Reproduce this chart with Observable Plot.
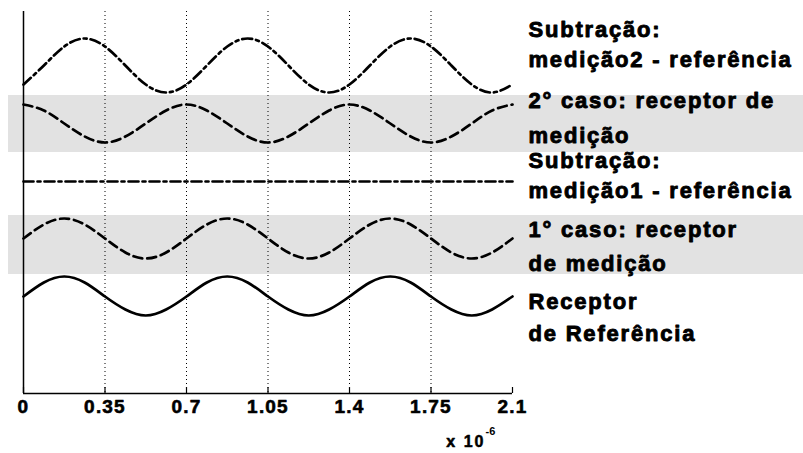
<!DOCTYPE html>
<html>
<head>
<meta charset="utf-8">
<script src="https://cdn.jsdelivr.net/npm/d3@7"></script>
<script src="https://cdn.jsdelivr.net/npm/@observablehq/plot@0.6"></script>
<style>
  html, body { margin: 0; padding: 0; background: #fff; }
  svg { display: block; }
</style>
</head>
<body>
<div id="chart"></div>
<script>
// x positions (units of 1e-6)
const xs = [0, 0.0875, 0.175, 0.2625, 0.35, 0.4375, 0.525, 0.6125, 0.7, 0.7875, 0.875, 0.9625,
            1.05, 1.1375, 1.225, 1.3125, 1.4, 1.4875, 1.575, 1.6625, 1.75, 1.8375, 1.925, 2.0125, 2.1];
// series values (arbitrary vertical units)
const referencia = [97,111,117,111,97,84,78,84, 97,111,117,111,97,84,78,84, 97,111,117,111,97,84,78,84, 97];
const caso1      = [155,169,175,169,155,141,135,141, 155,169,175,169,155,141,135,141, 155,169,175,169,155,141,135,141, 155];
const subtracao1 = [212,212,212,212,212,212,212,212, 212,212,212,212,212,212,212,212, 212,212,212,212,212,212,212,212, 212];
const caso2      = [289,283,270,257,251,257,270,283, 289,283,270,257,251,257,270,283, 289,283,270,257,251,257,270,283, 289];
const subtracao2 = [309,328,347,355,347,328,309,301, 309,328,347,355,347,328,309,301, 309,328,347,355,347,328,309,301, 309];

const tickValues = [0, 0.35, 0.7, 1.05, 1.4, 1.75, 2.1];
const tickLabels = ["0", "0.35", "0.7", "1.05", "1.4", "1.75", "2.1"];
const gridValues = [0.35, 0.7, 1.05, 1.4, 1.75];

const labelLines = ["Subtração:", "medição2 - referência", "2° caso: receptor de", "medição",
                    "Subtração:", "medição1 - referência", "1° caso: receptor", "de medição",
                    "Receptor", "de Referência"];
const labelLevels = [364, 334, 293, 258, 233, 203, 164, 130, 92, 60];

const bandLow  = [241, 119];
const bandHigh = [298, 178];

const series = [
  {name: "sub2", values: subtracao2, dash: "10,4,3,4"},
  {name: "caso2", values: caso2, dash: "9,5"},
  {name: "sub1", values: subtracao1, dash: "10,4,3,4"},
  {name: "caso1", values: caso1, dash: "9,5"},
  {name: "ref", values: referencia, dash: null}
];

const font = "'Liberation Sans', Arial, Helvetica, sans-serif";

const bands = bandLow.map((lo, i) => ({lo, hi: bandHigh[i]}));
const labels = labelLines.map((t, i) => ({t, y: labelLevels[i]}));
const ticks = tickValues.map((v, i) => ({v, s: tickLabels[i]}));

const lineMarks = series.map(s =>
  Plot.line(xs.map((x, i) => ({x, y: s.values[i]})), {
    x: "x", y: "y", curve: "natural",
    stroke: "#000", strokeWidth: 2.7,
    strokeDasharray: s.dash || undefined
  })
);

const chart = Plot.plot({
  width: 803,
  height: 453,
  marginLeft: 23,
  marginRight: 291,
  marginTop: 11,
  marginBottom: 60,
  style: {fontFamily: font, background: "#fff"},
  x: {domain: [0, 2.1], axis: null},
  y: {domain: [0, 382], axis: null},
  marks: [
    Plot.rectY(bands, {y1: "lo", y2: "hi", fill: "#e2e2e2", insetLeft: -15, insetRight: -291}),
    Plot.ruleX(gridValues, {stroke: "#000", strokeWidth: 1, strokeDasharray: "1,3"}),
    Plot.ruleX(tickValues, {stroke: "#000", strokeWidth: 1.2, insetTop: 376}),
    Plot.ruleX([0], {stroke: "#000", strokeWidth: 1.5}),
    Plot.ruleY([0], {stroke: "#000", strokeWidth: 1.5}),
    ...lineMarks,
    Plot.text(ticks, {x: "v", text: "s", frameAnchor: "bottom", dy: 19,
      fontSize: 19, fontWeight: "bold", fill: "#000", stroke: "#000", strokeWidth: 0.6}),
    Plot.text(["x 10"], {text: d => d, frameAnchor: "bottom-right", dx: -27, dy: 53,
      textAnchor: "end", fontSize: 16, fontWeight: "bold", fill: "#000", stroke: "#000", strokeWidth: 0.5}),
    Plot.text(["-6"], {text: d => d, frameAnchor: "bottom-right", dx: -27, dy: 41,
      textAnchor: "start", fontSize: 11, fontWeight: "bold", fill: "#000"}),
    Plot.text(labels, {x: () => 2.1, y: "y", text: "t", dx: 16, textAnchor: "start",
      fontSize: 22, fontWeight: "bold", fill: "#000", stroke: "#000", strokeWidth: 0.9})
  ]
});
// widen letter spacing to match the reference's broad bold lettering
d3.select(chart).selectAll("text").each(function() {
  const t = this.textContent;
  if (labelLines.includes(t)) this.setAttribute("letter-spacing", "1.8px");
  else if (tickLabels.includes(t)) this.setAttribute("letter-spacing", "1.2px");
  else if (t === "x 10") this.setAttribute("letter-spacing", "2px");
});
document.getElementById("chart").appendChild(chart);
</script>
</body>
</html>
